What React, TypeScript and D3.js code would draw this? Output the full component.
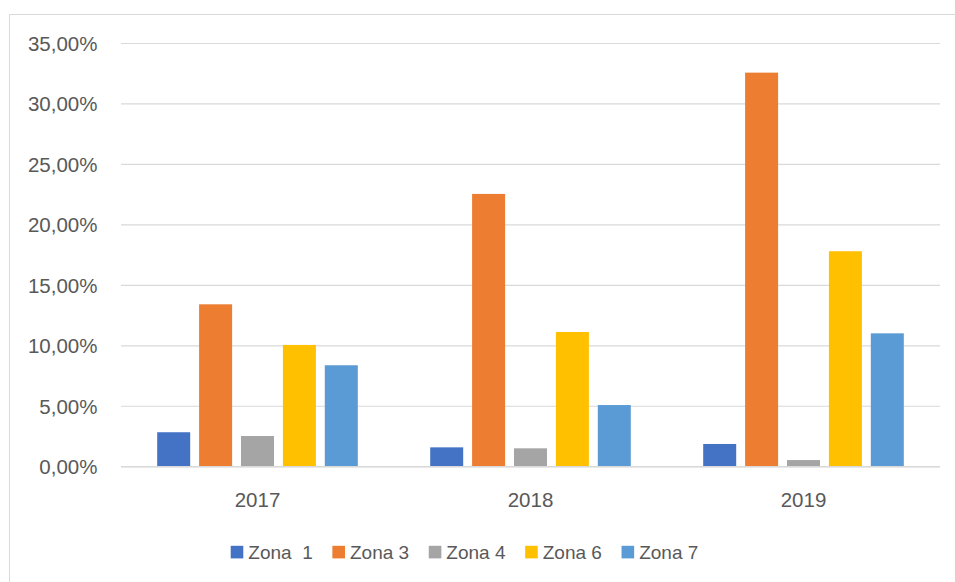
import React, { useMemo } from "react";
import * as d3 from "d3";

const years = ["2017", "2018", "2019"];
const seriesNames = ["Zona  1", "Zona 3", "Zona 4", "Zona 6", "Zona 7"];
const seriesColors = ["#4472C4", "#ED7D31", "#A5A5A5", "#FFC000", "#5B9BD5"];
const zona1 = [2.85, 1.6, 1.88];
const zona3 = [13.43, 22.56, 32.59];
const zona4 = [2.54, 1.52, 0.55];
const zona6 = [10.07, 11.14, 17.82];
const zona7 = [8.39, 5.1, 11.03];
const yTicks = [0, 5, 10, 15, 20, 25, 30, 35];

const FONT = "'Liberation Sans', Arial, sans-serif";

function measure(text: string, size: number) {
  if (typeof document === "undefined") return text.length * size * 0.5;
  const c = document.createElement("canvas").getContext("2d");
  if (!c) return text.length * size * 0.5;
  c.font = `${size}px ${FONT}`;
  return c.measureText(text).width;
}

export default function App() {
  const W = 955, H = 582;
  const left = 121, right = 940, top = 43.5, bottom = 466.7;
  const values = [zona1, zona3, zona4, zona6, zona7];

  const x0 = d3.scaleBand<string>().domain(years).range([left, right]).padding(0);
  const x1 = d3
    .scaleBand<string>()
    .domain(seriesNames)
    .range([0, x0.bandwidth()])
    .paddingInner(0.2124)
    .paddingOuter(0.864);
  const y = d3.scaleLinear().domain([0, 35]).range([bottom, top]);
  const fmt = (v: number) => v.toFixed(2).replace(".", ",") + "%";

  const legendSize = 19;
  const sw = 12.6;
  const legend = useMemo(() => {
    const widths = seriesNames.map((n) => measure(n, legendSize));
    const itemW = widths.map((w) => sw + 5 + w);
    const span = 698.3 - 230.7;
    const gap = (span - itemW.reduce((a, b) => a + b, 0)) / (seriesNames.length - 1);
    let x = 230.7;
    return seriesNames.map((n, i) => {
      const pos = x;
      x += itemW[i] + gap;
      return { name: n, x: pos, color: seriesColors[i] };
    });
  }, []);

  return (
    <svg width={W} height={H} style={{ position: "absolute", left: 0, top: 0, background: "#fff" }}>
      <rect x={0} y={0} width={W} height={H} fill="#fff" />
      <line x1={9.5} x2={9.5} y1={14.5} y2={H} stroke="#D9D9D9" strokeWidth={1} />
      <line x1={9.5} x2={W} y1={14.5} y2={14.5} stroke="#D9D9D9" strokeWidth={1} />
      {yTicks.map((t) => (
        <g key={t}>
          <line x1={left} x2={right} y1={y(t)} y2={y(t)} stroke="#D9D9D9" strokeWidth={1.2} />
          <text
            x={97.5}
            y={y(t)}
            dy="0.36em"
            textAnchor="end"
            fontFamily={FONT}
            fontSize={20.5}
            fill="#595959"
          >
            {fmt(t)}
          </text>
        </g>
      ))}
      {years.map((yr, gi) => (
        <g key={yr} transform={`translate(${x0(yr)},0)`}>
          {seriesNames.map((s, si) => (
            <rect
              key={s}
              x={x1(s)}
              y={y(values[si][gi])}
              width={x1.bandwidth()}
              height={bottom - y(values[si][gi])}
              fill={seriesColors[si]}
            />
          ))}
          <text
            x={x0.bandwidth() / 2}
            y={506.5}
            textAnchor="middle"
            fontFamily={FONT}
            fontSize={20.5}
            fill="#595959"
          >
            {yr}
          </text>
        </g>
      ))}
      <line x1={left} x2={right} y1={bottom} y2={bottom} stroke="#D9D9D9" strokeWidth={1.5} />
      {legend.map((l) => (
        <g key={l.name}>
          <rect x={l.x} y={545.8} width={sw} height={sw} fill={l.color} />
          <text
            x={l.x + sw + 5}
            y={559}
            fontFamily={FONT}
            fontSize={legendSize}
            fill="#595959"
            style={{ whiteSpace: "pre" }}
          >
            {l.name}
          </text>
        </g>
      ))}
    </svg>
  );
}
